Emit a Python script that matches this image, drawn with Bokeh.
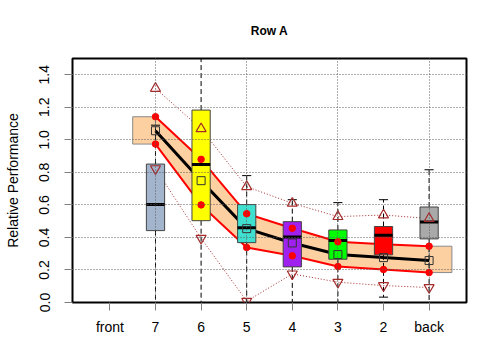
from bokeh.plotting import figure
from bokeh.models import FixedTicker, Range1d, ColumnDataSource
from bokeh.embed import file_html
from bokeh.resources import INLINE

# ---- data ----
categories = ["front", "7", "6", "5", "4", "3", "2", "back"]
series_cats = ["7", "6", "5", "4", "3", "2", "back"]

upper_band = [1.142, 0.880, 0.546, 0.456, 0.373, 0.358, 0.346]
lower_band = [0.974, 0.600, 0.338, 0.287, 0.221, 0.203, 0.184]
mean_vals = [1.056, 0.749, 0.454, 0.366, 0.295, 0.276, 0.258]
upper_tri = [1.316, 1.068, 0.712, 0.610, 0.528, 0.538, 0.516]
lower_tri = [0.823, 0.395, 0.008, 0.176, 0.125, 0.104, 0.092]

box_q1 = [0.442, 0.503, 0.368, 0.219, 0.266, 0.293, 0.391]
box_med = [0.603, 0.849, 0.460, 0.403, 0.381, 0.413, 0.495]
box_q3 = [0.851, 1.183, 0.602, 0.497, 0.446, 0.467, 0.587]
whisk_lo = [0.0, 0.0, 0.0, 0.0, 0.0, 0.033, 0.0]
whisk_hi = [1.09, 1.62, 0.78, 0.632, 0.614, 0.632, 0.816]
box_colors = ["#A2B5CD", "#FFFF00", "#40E0D0", "#A020F0", "#00FF00", "#FF0000", "#A9A9A9"]

y_ticks = [0.0, 0.2, 0.4, 0.6, 0.8, 1.0, 1.2, 1.4]
x_grid_ticks = [2, 4, 6, 8]

# ---- derived ----
xs = [categories.index(c) + 1 for c in series_cats]
n_cat = len(categories)

FONT = "Liberation Sans"
PEACH = "#FDD0A2"
BROWN = "#A52A2A"

p = figure(width=480, height=360, output_backend="svg", toolbar_location=None,
           x_range=Range1d(0.5 - 0.04 * (n_cat), n_cat + 0.5 + 0.04 * (n_cat)),
           y_range=Range1d(0, 1.5),
           min_border_left=72, min_border_right=14, min_border_top=58, min_border_bottom=58,
           title="Row A")

p.outline_line_color = "black"
p.outline_line_width = 2
p.background_fill_color = "white"
p.border_fill_color = "white"

p.title.align = "center"
p.title.text_font = FONT
p.title.text_font_size = "12px"
p.title.text_font_style = "bold"
p.title.text_color = "black"
p.title.standoff = 42

# axes
p.xaxis.ticker = FixedTicker(ticks=list(range(1, n_cat + 1)))
p.xaxis.major_label_overrides = {i + 1: c for i, c in enumerate(categories)}
p.yaxis.ticker = FixedTicker(ticks=y_ticks)
p.yaxis.major_label_overrides = {t: f"{t:.1f}" for t in y_ticks}
p.yaxis.major_label_orientation = "vertical"
p.yaxis.axis_label = "Relative Performance"
for ax in (p.xaxis, p.yaxis):
    ax.axis_line_color = None
    ax.major_tick_line_color = "#808080"
    ax.major_tick_out = 8
    ax.major_tick_in = 0
    ax.minor_tick_line_color = None
    ax.major_label_text_font = FONT
    ax.major_label_text_font_size = "14px"
    ax.major_label_text_color = "black"
    ax.axis_label_text_font = FONT
    ax.axis_label_text_font_size = "14px"
    ax.axis_label_text_font_style = "normal"
    ax.axis_label_text_color = "black"
p.xaxis.major_label_standoff = 8
p.yaxis.major_label_standoff = 15
p.yaxis.axis_label_standoff = 16

# grid (drawn above the filled shapes, as in the reference)
p.xgrid.ticker = FixedTicker(ticks=x_grid_ticks)
p.ygrid.ticker = FixedTicker(ticks=y_ticks)
for g in (p.xgrid, p.ygrid):
    g.grid_line_color = "#5a5a5a"
    g.grid_line_dash = "1 2"
    g.grid_line_width = 1
    g.level = "guide"

# ---- peach band ----
p.varea(x=xs, y1=lower_band, y2=upper_band, fill_color=PEACH)
p.quad(left=[xs[0] - 0.5], right=[xs[0]], bottom=[lower_band[0]], top=[upper_band[0]],
       fill_color=PEACH, line_color="#8a8a8a", line_width=1)
p.quad(left=[xs[-1]], right=[xs[-1] + 0.5], bottom=[lower_band[-1]], top=[upper_band[-1]],
       fill_color=PEACH, line_color="#8a8a8a", line_width=1)

# band edges, mean line, triangle lines
p.line(xs, upper_band, line_color="red", line_width=2)
p.line(xs, lower_band, line_color="red", line_width=2)
p.line(xs, mean_vals, line_color="black", line_width=3)
p.line(xs, upper_tri, line_color=BROWN, line_width=1, line_dash="1 2")
p.line(xs, lower_tri, line_color=BROWN, line_width=1, line_dash="1 2")

# ---- box plots ----
bsrc = ColumnDataSource(dict(
    x=xs, q1=box_q1, med=box_med, q3=box_q3, lo=whisk_lo, hi=whisk_hi, color=box_colors,
    xl=[x - 0.2 for x in xs], xr=[x + 0.2 for x in xs],
    cl=[x - 0.1 for x in xs], cr=[x + 0.1 for x in xs],
))
p.segment(x0="x", y0="q3", x1="x", y1="hi", source=bsrc, line_color="black",
          line_width=1, line_dash="5 3")
p.segment(x0="x", y0="q1", x1="x", y1="lo", source=bsrc, line_color="black",
          line_width=1, line_dash="5 3")
p.segment(x0="cl", y0="hi", x1="cr", y1="hi", source=bsrc, line_color="black", line_width=1)
p.segment(x0="cl", y0="lo", x1="cr", y1="lo", source=bsrc, line_color="black", line_width=1)
p.vbar(x="x", width=0.4, bottom="q1", top="q3", source=bsrc, fill_color="color",
       line_color="#444444", line_width=1)
p.segment(x0="xl", y0="med", x1="xr", y1="med", source=bsrc, line_color="black", line_width=3)

# ---- points ----
p.scatter(xs, upper_band, marker="circle", size=6.5, fill_color="red", line_color="red")
p.scatter(xs, lower_band, marker="circle", size=6.5, fill_color="red", line_color="red")
p.scatter(xs, mean_vals, marker="square", size=8, fill_color=None, line_color="#333333",
          line_width=1)
p.scatter(xs, upper_tri, marker="triangle", size=10, fill_color=None, line_color=BROWN,
          line_width=1.2)
p.scatter(xs, lower_tri, marker="inverted_triangle", size=10, fill_color=None,
          line_color=BROWN, line_width=1.2)

open("out.html", "w").write(file_html(p, INLINE))
